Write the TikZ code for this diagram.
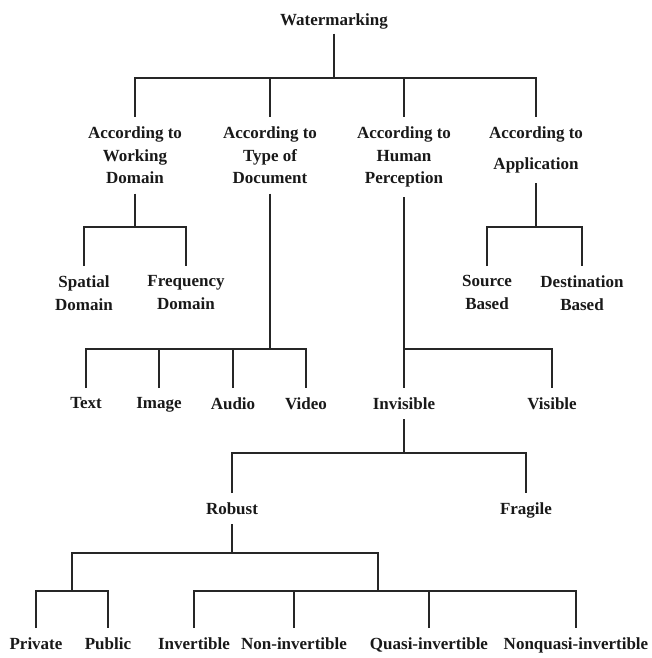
\documentclass[tikz,border=0pt]{standalone}
\usepackage{fontspec}
\setmainfont{Liberation Serif}
\begin{document}
\begin{tikzpicture}[x=1pt,y=-1pt,line width=1.2pt]
	\useasboundingbox (0,0) rectangle (651,658);
	\begin{scope}[every node/.style={anchor=north,align=center,inner xsep=1pt,inner ysep=9pt,text=black!90,font=\fontsize{17}{22.7}\selectfont\bfseries}]
		\node[inner ysep=4pt] (wm) at (334,9) {Watermarking};
		\node (wd) at (135,117) {According to\\Working\\Domain};
		\node (td) at (270,117) {According to\\Type of\\Document};
		\node (hp) at (404,117) {According to\\Human\\Perception};
		\node (ap) at (536,117) {According to\\[8.7pt]Application};
		\node (sd) at (84,266) {Spatial\\Domain};
		\node (fd) at (186,266) {Frequency\\Domain};
		\node (sb) at (487,266) {Source\\Based};
		\node (db) at (582,266) {Destination\\Based};
		\node (tx) at (86,388) {Text};
		\node (im) at (159,388) {Image};
		\node (au) at (233,388) {Audio};
		\node (vi) at (306,388) {Video};
		\node (iv) at (404,388) {Invisible};
		\node (vs) at (552,388) {Visible};
		\node (rb) at (232,493) {Robust};
		\node (fr) at (526,493) {Fragile};
		\node (pv) at (36,628) {Private};
		\node (pb) at (108,628) {Public};
		\node (inv) at (194,628) {Invertible};
		\node (ninv) at (294,628) {Non-invertible};
		\node (qinv) at (429,628) {Quasi-invertible};
		\node (nqinv) at (576,628) {Nonquasi-invertible};
	\end{scope}
	\coordinate (l1) at (0,78);
	\coordinate (l2) at (0,227);
	\coordinate (l3) at (0,349);
	\coordinate (l4) at (0,453);
	\coordinate (l5) at (0,553);
	\coordinate (kp) at (72,591);
	\coordinate (ki) at (378,591);
	\begin{scope}[draw=black!85]
		\draw (wm.south) -- (wm.south |- l1);
		\draw (wd.north) |- (l1 -| ap.north) -- (ap.north);
		\draw (td.north) -- (td.north |- l1);
		\draw (hp.north) -- (hp.north |- l1);
		\draw (wd.south) -- (wd.south |- l2);
		\draw (sd.north) |- (l2 -| fd.north) -- (fd.north);
		\draw (ap.south) -- (ap.south |- l2);
		\draw (sb.north) |- (l2 -| db.north) -- (db.north);
		\draw (td.south) -- (td.south |- l3);
		\draw (tx.north) |- (l3 -| vi.north) -- (vi.north);
		\draw (im.north) -- (im.north |- l3);
		\draw (au.north) -- (au.north |- l3);
		\draw (hp.south) -- (iv.north);
		\draw (hp.south |- l3) -| (vs.north);
		\draw (iv.south) -- (iv.south |- l4);
		\draw (rb.north) |- (l4 -| fr.north) -- (fr.north);
		\draw (rb.south) -- (rb.south |- l5);
		\draw (kp) |- (l5 -| ki) -- (ki);
		\draw (pv.north) |- (kp) -| (pb.north);
		\draw (inv.north) |- (ki) -| (nqinv.north);
		\draw (ninv.north) -- (ninv.north |- ki);
		\draw (qinv.north) -- (qinv.north |- ki);
	\end{scope}
\end{tikzpicture}
\end{document}
